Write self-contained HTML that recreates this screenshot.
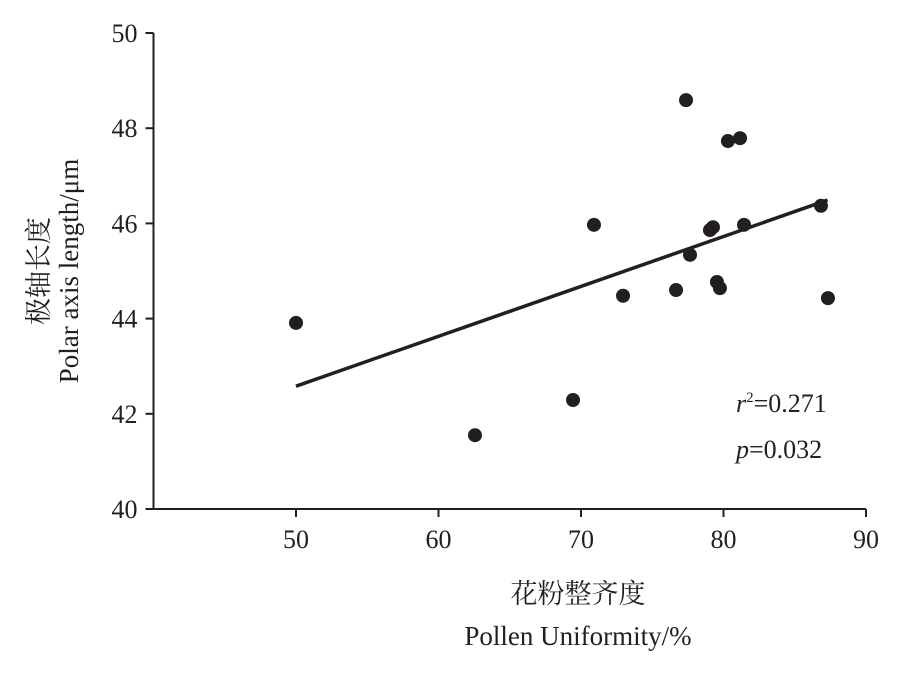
<!DOCTYPE html>
<html><head><meta charset="utf-8"><style>
html,body{margin:0;padding:0;background:#fff;}
svg text{font-family:"Liberation Serif","Noto Serif CJK SC",serif;fill:#231f20;}
</style></head><body>
<svg id="chart" width="913" height="671" viewBox="0 0 913 671" xmlns="http://www.w3.org/2000/svg">
<g id="axes"></g><g id="marks"></g>
<text x="736" y="412" font-size="26"><tspan font-style="italic">r</tspan><tspan font-size="15" dy="-10">2</tspan><tspan dy="10">=0.271</tspan></text>
<text x="736" y="458" font-size="26"><tspan font-style="italic">p</tspan>=0.032</text>
<text x="578" y="603" font-size="27" text-anchor="middle">花粉整齐度</text>
<text x="578" y="645" font-size="27" text-anchor="middle">Pollen Uniformity/%</text>
<g transform="translate(48,271) rotate(-90)">
<text x="0" y="0" font-size="27" text-anchor="middle">极轴长度</text>
<text x="0" y="30" font-size="27" text-anchor="middle">Polar axis length/μm</text>
</g>
</svg>
<script>
const xTicks=[50,60,70,80,90];
const yTicks=[40,42,44,46,48,50];
const xVals=[50.0,62.56,69.44,70.91,72.95,76.67,77.37,77.65,79.05,79.26,79.54,79.75,80.31,81.16,81.44,86.84,87.33];
const yVals=[43.91,41.55,42.29,45.97,44.48,44.60,48.59,45.34,45.86,45.92,44.77,44.64,47.73,47.79,45.97,46.37,44.43];
const fitX=[50,87.3];
const fitY=[42.58,46.49];
const NS="http://www.w3.org/2000/svg";
const X=v=>153.5+(v-40)*14.25;
const Y=v=>509-(v-40)*47.6;
const axes=document.getElementById('axes'),marks=document.getElementById('marks');
function mk(tag,at,parent){const e=document.createElementNS(NS,tag);for(const k in at)e.setAttribute(k,at[k]);parent.appendChild(e);return e;}
let l=mk('path',{d:`M${X(40)} ${Y(50)} V${Y(40)} H${X(90)}`,stroke:'#231f20','stroke-width':2,fill:'none'},axes);


xTicks.forEach(t=>{
 const tk=mk('line',{x1:X(t),x2:X(t),y1:Y(40),y2:Y(40)+8,stroke:'#231f20','stroke-width':2},axes);
 
 
 const tx=mk('text',{x:X(t),y:Y(40)+39,'font-size':26,'text-anchor':'middle'},axes);tx.textContent=t;
 
 
});
yTicks.forEach(t=>{
 const tk=mk('line',{x1:X(40)-8,x2:X(40),y1:Y(t),y2:Y(t),stroke:'#231f20','stroke-width':2},axes);
 
 
 const tx=mk('text',{x:X(40)-16,y:Y(t)+9,'font-size':26,'text-anchor':'end'},axes);tx.textContent=t;
 
 
});
const fl=mk('line',{x1:X(fitX[0]),y1:Y(fitY[0]),x2:X(fitX[1]),y2:Y(fitY[1]),stroke:'#231f20','stroke-width':3.5},marks);


xVals.forEach((v,i)=>{
 const c=mk('circle',{cx:X(v),cy:Y(yVals[i]),r:7,fill:'#231f20'},marks);
 
 
});
</script>
</body></html>
